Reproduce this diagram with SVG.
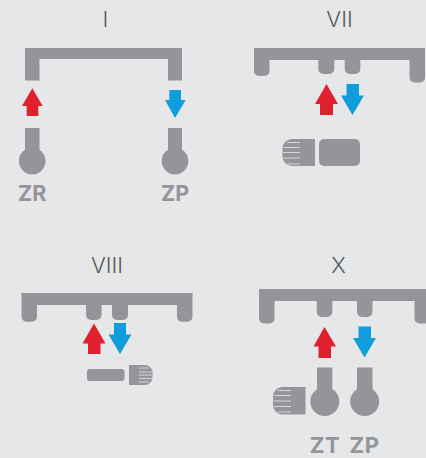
<svg xmlns="http://www.w3.org/2000/svg" width="426" height="458" viewBox="0 0 426 458">
<style>
.g{fill:#939598}
.r{fill:#e1202f}
.b{fill:#0f9edb}
.w{stroke:#e6e7e9;stroke-width:1;fill:none;opacity:.8}
.t{font-family:"Inter","Liberation Sans",sans-serif;font-size:22px;font-weight:300;fill:#58595b;text-anchor:middle}
.l{font-family:"Inter","Liberation Sans",sans-serif;font-size:21.500px;font-weight:700;fill:#939598;text-anchor:middle}
.x{font-size:22px;letter-spacing:.5px}
</style>
<rect width="426" height="458" fill="#e6e7e9"/>
<g id="panel-I">
<text class="t" x="105.500" y="27">I</text>
<path class="g" d="M25 48H182V80.500H168V59H39.500V80.500H25Z"/>
<g id="I-zr"><path class="g" d="M25 128H39.500V150H25Z"/><circle class="g" cx="32.200" cy="161" r="13.300"/><text class="l" x="32.300" y="201">ZR</text></g>
<g id="I-zp"><path class="g" d="M168 128H182V150H168Z"/><circle class="g" cx="175" cy="161" r="13.300"/><text class="l" x="175" y="201">ZP</text></g>
</g>
<g id="panel-VII">
<text class="t" x="339.500" y="27">VII</text>
<path class="g" d="M254 48H425V77.500a5 5 0 0 1-5 5H414.500a5 5 0 0 1-5-5V60H360.300V69a5 5 0 0 1-5 5H349.700a5 5 0 0 1-5-5V60H334.300V69a5 5 0 0 1-5 5H323.300a5 5 0 0 1-5-5V60H269.500V71a5 5 0 0 1-5 5H259a5 5 0 0 1-5-5Z"/>
<rect id="VII-body" class="g" x="319" y="139" width="41" height="27" rx="5"/>
<g id="VII-knob"><path class="g" d="M315 139V166H292a9.500 9.500 0 0 1-9.500-9.500V148.500a9.500 9.500 0 0 1 9.500-9.500Z"/><path class="w" d="M287 142.500H300M283.500 147.500H300M283 152.500H300M283.500 158H300M287 164H300"/></g>
</g>
<g id="panel-VIII">
<text class="t" x="107" y="272.500">VIII</text>
<path class="g" d="M21.500 293H192.500V316.700a5 5 0 0 1-5 5H182a5 5 0 0 1-5-5V305H128V315a5 5 0 0 1-5 5H117a5 5 0 0 1-5-5V305H101.500V315a5 5 0 0 1-5 5H91a5 5 0 0 1-5-5V305H37V316.700a5 5 0 0 1-5 5H26.500a5 5 0 0 1-5-5Z"/>
<rect id="VIII-body" class="g" x="87" y="369" width="37.500" height="12" rx="3"/>
<g id="VIII-knob"><path class="g" d="M129 365H145a7.500 7.500 0 0 1 7.500 7.500V377.500a7.500 7.500 0 0 1-7.500 7.500H129Z"/><path class="w" d="M139 368H149M139 372H152M139 375H152M139 378.500H152M139 382H149"/></g>
</g>
<g id="panel-X">
<text class="t" x="338.500" y="272.500">X</text>
<path class="g" d="M259 289H430V323.500H419.500a5 5 0 0 1-5-5V301H372.500V312a5 5 0 0 1-5 5H362a5 5 0 0 1-5-5V301H332.300V312a5 5 0 0 1-5 5H321.700a5 5 0 0 1-5-5V301H274.500V318.500a5 5 0 0 1-5 5H264a5 5 0 0 1-5-5Z"/>
<g id="X-zt"><path class="g" d="M317 367.500H332.300V392H317Z"/><circle class="g" cx="324.800" cy="401.500" r="14.500"/><text class="l x" x="325" y="452.500">ZT</text></g>
<g id="X-zp"><path class="g" d="M357 367.500H372.500V392H357Z"/><circle class="g" cx="364.700" cy="401.500" r="14.500"/><text class="l x" x="364.500" y="452.500">ZP</text></g>
<g id="X-knob"><path class="g" d="M305.500 387V414.500H282.500a9.500 9.500 0 0 1-9.500-9.500V396.500a9.500 9.500 0 0 1 9.500-9.500Z"/><path class="w" d="M277.500 390.500H291M274 395.500H291M273.500 401H291M274 406.500H291M277.500 412H291"/></g>
</g>
<g id="connectors">
<path class="r" d="M32.300 88.300L42.700 106H38.300V116H26.700V106H22Z"/>
<path class="b" d="M169.300 90H181V100H185.700L175 118L165 100H169.300Z"/>
<path class="r" d="M326.500 84L338 104H333V115H320V104H315Z"/>
<path class="b" d="M346.500 84H359V95.500H364L352.500 115L341 95.500H346.500Z"/>
<path class="r" d="M94 323.500L105.500 343.500H100.500V354H88V343.500H82.500Z"/>
<path class="b" d="M114 323H126V334.500H131.500L120 354L108.500 334.500H114Z"/>
<path class="r" d="M324.500 327L336 346.500H331V358H318.500V346.500H313.500Z"/>
<path class="b" d="M358.500 326.500H371V338H376L364.500 357.500L353 338H358.500Z"/>
</g>
</svg>
